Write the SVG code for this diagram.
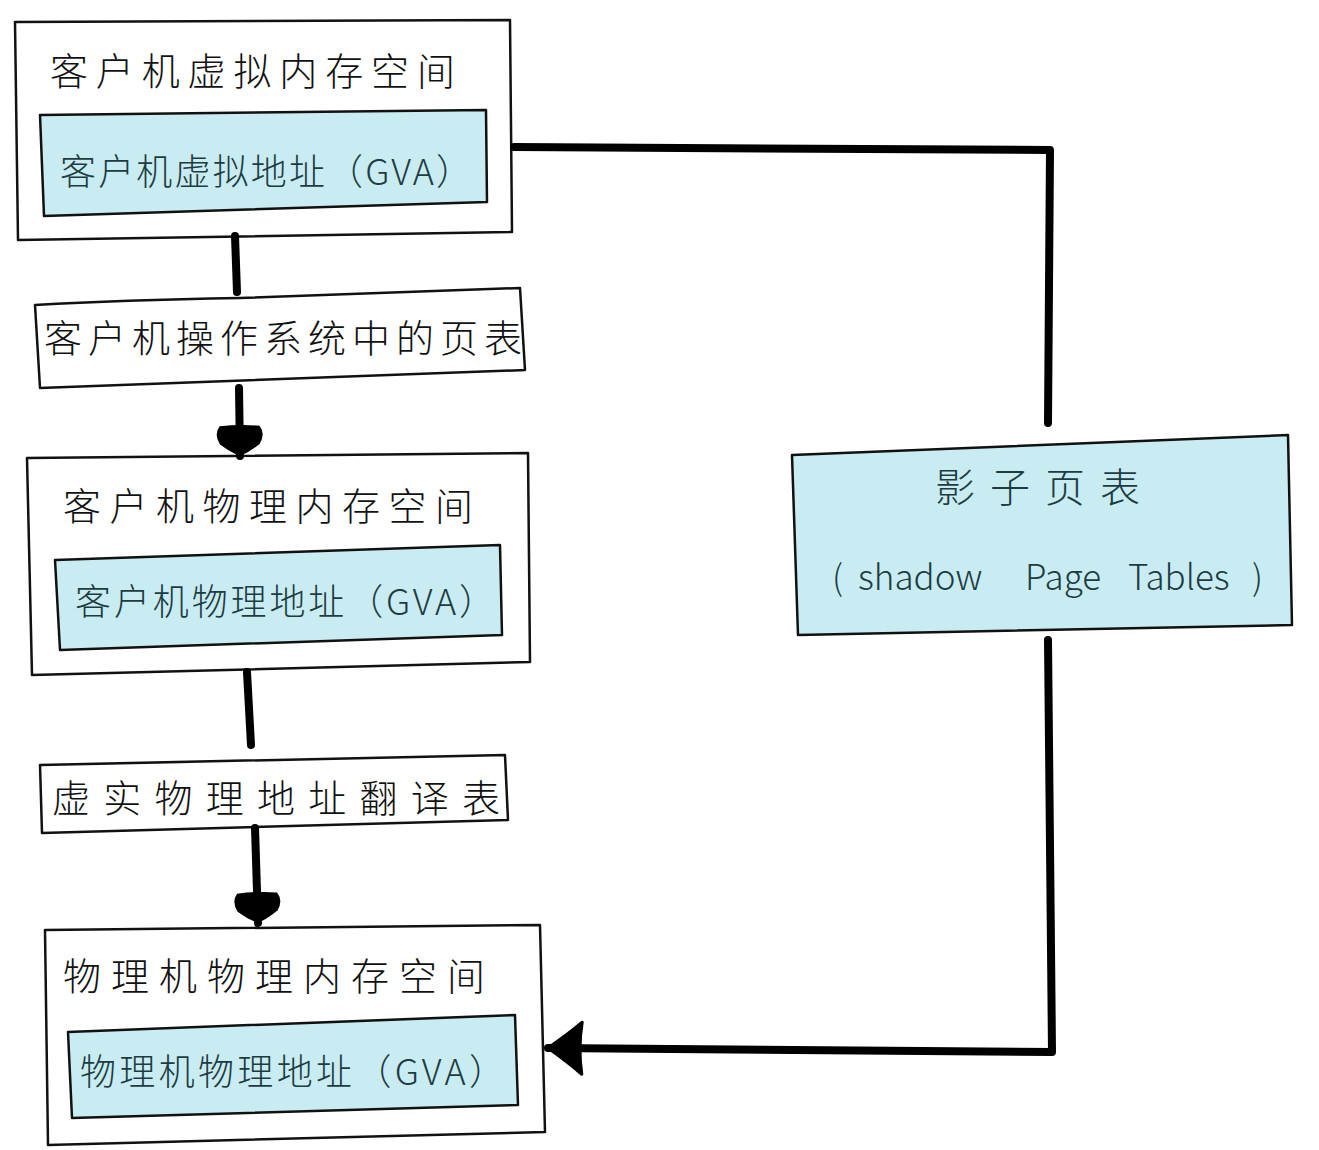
<svg xmlns="http://www.w3.org/2000/svg" width="1319" height="1150" viewBox="0 0 1319 1150">
<style>
.frame{fill:#ffffff;stroke:#111;stroke-width:2.5;stroke-linejoin:round}
.blue{fill:#c9ecf3;stroke:#111;stroke-width:2.5;stroke-linejoin:round}
.t{font-family:"Noto Sans CJK SC","Liberation Sans",sans-serif;font-weight:300;font-size:38px;fill:#111}
.tb{font-family:"Noto Sans CJK SC","Liberation Sans",sans-serif;font-weight:300;font-size:36px;fill:#1d3c42}
.tl{font-family:"Noto Sans CJK SC","Liberation Sans",sans-serif;font-weight:300;font-size:40px;fill:#1d3c42}
.te{font-family:"Noto Sans CJK SC","Liberation Sans",sans-serif;font-weight:300;font-size:35px;fill:#1d3c42}
.c{fill:none;stroke:#000;stroke-width:8;stroke-linecap:round;stroke-linejoin:round}
</style>
<defs>
<marker id="ah" markerUnits="userSpaceOnUse" markerWidth="60" markerHeight="60" viewBox="-40 -30 60 60" refX="0" refY="0" orient="auto">
<path d="M-30,-20 Q-22,-26 -12,-20 Q-4,-10 0,0 Q-4,10 -12,20 Q-22,26 -30,20 Q-32,0 -30,-20 Z" fill="#000"/>
</marker>
<marker id="ahl" markerUnits="userSpaceOnUse" markerWidth="70" markerHeight="70" viewBox="-45 -35 70 70" refX="0" refY="0" orient="auto">
<path d="M-34,-26 Q-20,-14 0,0 Q-20,14 -34,26 Q-30,0 -34,-26 Z" fill="#000" stroke="#000" stroke-width="3" stroke-linejoin="round"/>
</marker>
</defs>
<rect width="1319" height="1150" fill="#fff"/>
<g id="guest-virtual-space">
<path class="frame" d="M15,22 L510,20 L512,232 L18,240 Z"/>
<path class="blue" d="M40,115 L486,110 L487,202 L44,216 Z"/>
<text class="t" x="50" y="85" textLength="405" lengthAdjust="spacing">客户机虚拟内存空间</text>
<text class="tb" x="60" y="185" textLength="412" lengthAdjust="spacing">客户机虚拟地址（GVA）</text>
</g>
<g id="guest-os-page-table">
<path class="frame" d="M35,305 Q120,300 240,298 L520,288 L525,370 L40,388 Z"/>
<text class="t" x="44" y="352" textLength="478" lengthAdjust="spacing">客户机操作系统中的页表</text>
</g>
<g id="guest-physical-space">
<path class="frame" d="M27,458 L528,453 L530,662 L32,675 Z"/>
<path class="blue" d="M55,560 L500,545 L502,635 L60,650 Z"/>
<text class="t" x="63" y="520" textLength="410" lengthAdjust="spacing">客户机物理内存空间</text>
<text class="tb" x="75" y="615" textLength="420" lengthAdjust="spacing">客户机物理地址（GVA）</text>
</g>
<g id="address-translation-table">
<path class="frame" d="M40,765 L505,755 L508,820 L42,833 Z"/>
<text class="t" x="52" y="812" textLength="448" lengthAdjust="spacing">虚实物理地址翻译表</text>
</g>
<g id="host-physical-space">
<path class="frame" d="M45,930 L540,925 L545,1132 L48,1145 Z"/>
<path class="blue" d="M68,1032 L515,1015 L518,1105 L72,1118 Z"/>
<text class="t" x="63" y="990" textLength="422" lengthAdjust="spacing">物理机物理内存空间</text>
<text class="tb" x="80" y="1085" textLength="425" lengthAdjust="spacing">物理机物理地址（GVA）</text>
</g>
<g id="shadow-page-tables">
<path class="blue" d="M792,455 L1288,435 L1292,625 L798,635 Z"/>
<text class="tl" x="935" y="502" textLength="205" lengthAdjust="spacing">影子页表</text>
<text class="te" y="590"><tspan x="832">(</tspan><tspan x="858">shadow</tspan><tspan x="1025">Page</tspan><tspan x="1128">Tables</tspan><tspan x="1252">)</tspan></text>
</g>
<g id="connectors">
<path class="c" d="M235,236 L237,292"/>
<path class="c" d="M239,388 L240,456" marker-end="url(#ah)"/>
<path class="c" d="M247,672 L251,745"/>
<path class="c" d="M255,828 L258,923" marker-end="url(#ah)"/>
<path class="c" d="M514,147 L1050,150 L1048,423"/>
<path class="c" d="M1048,640 L1052,1052 L548,1048" marker-end="url(#ahl)"/>
</g>
</svg>
